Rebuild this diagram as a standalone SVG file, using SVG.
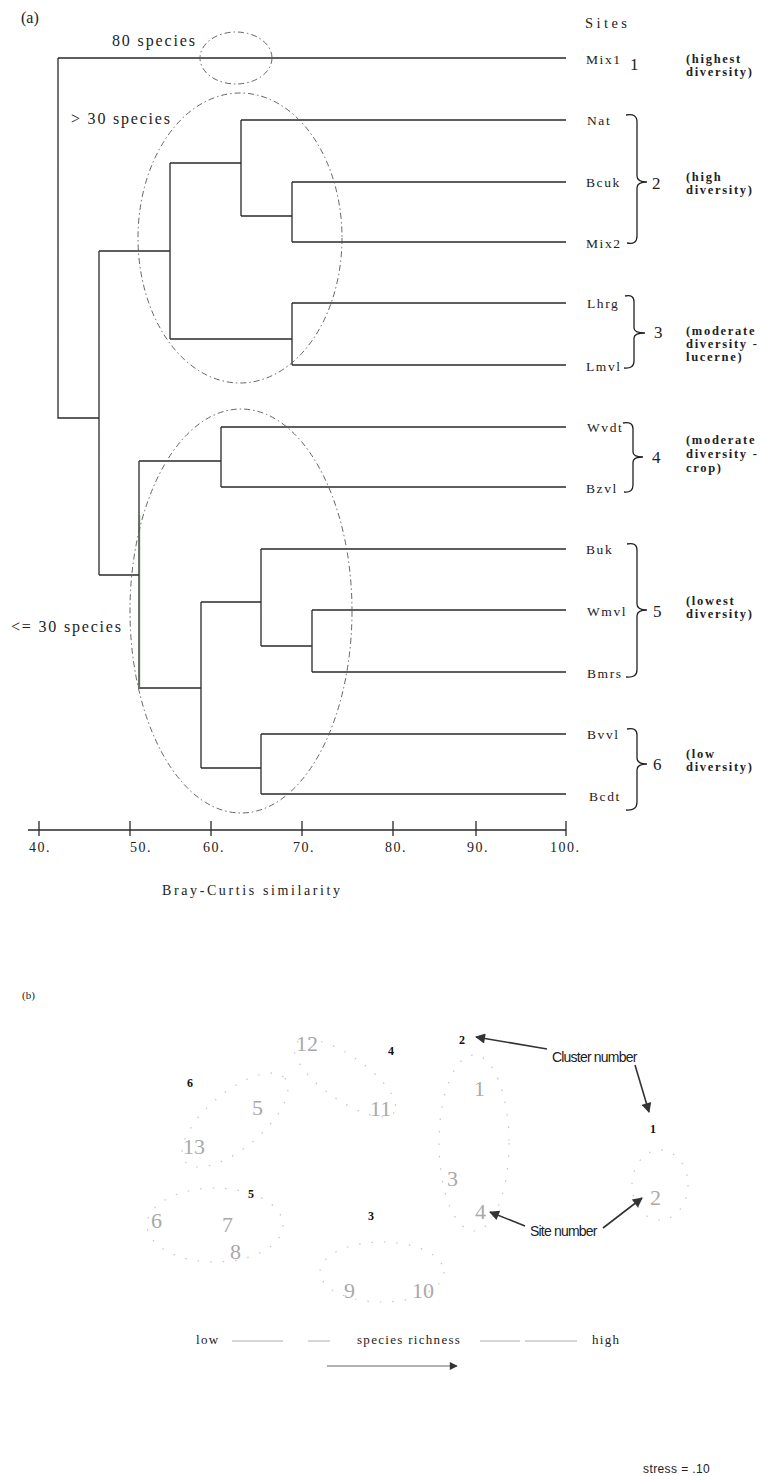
<svg xmlns="http://www.w3.org/2000/svg" width="761" height="1476" viewBox="0 0 761 1476">
<style>
.ser{font-family:"Liberation Serif","Times New Roman",serif;fill:#222}
.leaf{font-size:13.5px;letter-spacing:1.6px}
.lab{font-size:16px}
.cn{font-size:17px}
.desc{font-size:12.5px;font-weight:bold;letter-spacing:1.7px}
.tick{font-size:14px;letter-spacing:1.5px}
.ln{fill:none;stroke:#2a2a2a;stroke-width:1.3}
.ell{fill:none;stroke:#555;stroke-width:0.9;stroke-dasharray:6 3 1.5 3}
.brace{fill:none;stroke:#222;stroke-width:1.3}
.site{font-family:"Liberation Serif","Times New Roman",serif;font-size:22px;fill:#a9a9a9}
.clu{font-family:"Liberation Serif","Times New Roman",serif;font-size:12px;font-weight:bold;fill:#111}
.dots{fill:none;stroke:#c4c4c4;stroke-width:1.2;stroke-dasharray:1.5 11}
.san{font-family:"Liberation Sans",Arial,sans-serif;fill:#222}
.arr{fill:none;stroke:#333;stroke-width:1.6}
.thin{fill:none;stroke:#9a9a9a;stroke-width:0.8}
</style>
<defs>
<marker id="ah" viewBox="0 0 10 10" refX="9" refY="5" markerWidth="12" markerHeight="10" markerUnits="userSpaceOnUse" orient="auto">
<path d="M0,0 L10,5 L0,10 z" fill="#333"/>
</marker>
<marker id="ah2" viewBox="0 0 10 10" refX="9" refY="5" markerWidth="10" markerHeight="8" markerUnits="userSpaceOnUse" orient="auto">
<path d="M0,0 L10,5 L0,10 z" fill="#333"/>
</marker>
</defs>
<rect width="761" height="1476" fill="#fff"/>

<!-- Part (a) -->
<text class="ser" x="21" y="23" font-size="16">(a)</text>
<text class="ser lab" x="112" y="46" textLength="83" lengthAdjust="spacing">80 species</text>
<text class="ser lab" x="71" y="124" textLength="99" lengthAdjust="spacing">&gt; 30 species</text>
<text class="ser lab" x="11" y="632" textLength="110" lengthAdjust="spacing">&lt;= 30 species</text>
<text class="ser" x="585" y="28" font-size="14.5" textLength="42" lengthAdjust="spacing">Sites</text>

<g id="connectors">
<path class="ln" d="M58,58 H566 M58,58 V418 H99 M99,251 V575
M99,251 H170 M170,163 V339 M170,163 H241 M241,120 V216 M241,120 H566
M241,216 H292 M292,182 V242 M292,182 H566 M292,242 H566
M170,339 H292 M292,303 V365 M292,303 H566 M292,365 H566
M99,575 H139 M139,461 V688 M139,461 H221 M221,427 V487 M221,427 H566 M221,487 H566
M139,688 H201 M201,602 V768 M201,602 H261 M261,549 V646 M261,549 H566 M261,646 H312
M312,610 V672 M312,610 H566 M312,672 H566
M201,768 H261 M261,734 V794 M261,734 H566 M261,794 H566"/>
<path d="M139.5,515 V688" fill="none" stroke="#4d7f3a" stroke-width="1.3"/>
</g>

<g id="groups-a">
<ellipse class="ell" cx="236" cy="58" rx="36" ry="26"/>
<ellipse class="ell" cx="240" cy="238" rx="102" ry="145"/>
<ellipse class="ell" cx="241" cy="611" rx="111" ry="202"/>
</g>

<g id="leaf-Mix1"><text class="ser leaf" x="586" y="64">Mix1</text></g>
<g id="leaf-Nat"><text class="ser leaf" x="587" y="125">Nat</text></g>
<g id="leaf-Bcuk"><text class="ser leaf" x="586" y="187">Bcuk</text></g>
<g id="leaf-Mix2"><text class="ser leaf" x="586" y="248">Mix2</text></g>
<g id="leaf-Lhrg"><text class="ser leaf" x="587" y="308">Lhrg</text></g>
<g id="leaf-Lmvl"><text class="ser leaf" x="586" y="371">Lmvl</text></g>
<g id="leaf-Wvdt"><text class="ser leaf" x="587" y="432">Wvdt</text></g>
<g id="leaf-Bzvl"><text class="ser leaf" x="586" y="493">Bzvl</text></g>
<g id="leaf-Buk"><text class="ser leaf" x="586" y="554">Buk</text></g>
<g id="leaf-Wmvl"><text class="ser leaf" x="587" y="616">Wmvl</text></g>
<g id="leaf-Bmrs"><text class="ser leaf" x="587" y="678">Bmrs</text></g>
<g id="leaf-Bvvl"><text class="ser leaf" x="587" y="739">Bvvl</text></g>
<g id="leaf-Bcdt"><text class="ser leaf" x="589" y="801">Bcdt</text></g>

<g id="cluster-1">
<text class="ser cn" x="630" y="70">1</text>
<text class="ser desc" x="686" y="63">(highest</text>
<text class="ser desc" x="686" y="76">diversity)</text>
</g>
<g id="cluster-2">
<path class="brace" d="M626,115 Q637,113 637,122 L637,176 Q637,182 647,182 Q637,182 637,188 L637,236 Q637,245 627,243"/>
<text class="ser cn" x="652" y="189">2</text>
<text class="ser desc" x="686" y="181">(high</text>
<text class="ser desc" x="686" y="194">diversity)</text>
</g>
<g id="cluster-3">
<path class="brace" d="M625,296 Q634,294 634,302 L634,328 Q634,333 645,333 Q634,333 634,338 L634,361 Q634,369 624,368"/>
<text class="ser cn" x="654" y="338">3</text>
<text class="ser desc" x="686" y="335">(moderate</text>
<text class="ser desc" x="686" y="348">diversity -</text>
<text class="ser desc" x="686" y="361">lucerne)</text>
</g>
<g id="cluster-4">
<path class="brace" d="M623,423 Q633,421 633,429 L633,452 Q633,457 643,457 Q633,457 633,462 L633,485 Q633,493 624,492"/>
<text class="ser cn" x="652" y="463">4</text>
<text class="ser desc" x="686" y="444">(moderate</text>
<text class="ser desc" x="686" y="458">diversity -</text>
<text class="ser desc" x="686" y="472">crop)</text>
</g>
<g id="cluster-5">
<path class="brace" d="M627,544 Q637,542 637,550 L637,604 Q637,610 647,610 Q637,610 637,616 L637,670 Q637,678 626,677"/>
<text class="ser cn" x="653" y="617">5</text>
<text class="ser desc" x="686" y="605">(lowest</text>
<text class="ser desc" x="686" y="618">diversity)</text>
</g>
<g id="cluster-6">
<path class="brace" d="M627,729 Q637,727 637,735 L637,758 Q637,764 647,764 Q637,764 637,770 L637,802 Q637,811 626,810"/>
<text class="ser cn" x="653" y="770">6</text>
<text class="ser desc" x="686" y="758">(low</text>
<text class="ser desc" x="686" y="771">diversity)</text>
</g>

<g id="axis">
<path class="ln" d="M28,830 H566 M39,821 V836 M130,821 V836 M211,821 V836 M302,821 V836 M393,821 V836 M476,821 V836 M566,821 V836"/>
<text class="ser tick" x="29" y="852">40.</text>
<text class="ser tick" x="130" y="852">50.</text>
<text class="ser tick" x="203" y="852">60.</text>
<text class="ser tick" x="293" y="852">70.</text>
<text class="ser tick" x="385" y="852">80.</text>
<text class="ser tick" x="467" y="852">90.</text>
<text class="ser tick" x="550" y="852">100.</text>
<text class="ser" x="162" y="895" font-size="14" textLength="178" lengthAdjust="spacing">Bray-Curtis similarity</text>
</g>

<!-- Part (b) -->
<text class="ser" x="22" y="999" font-size="11">(b)</text>

<g id="outlines-b">
<ellipse class="dots" cx="235" cy="1120" rx="65" ry="28" transform="rotate(-40 235 1120)"/>
<ellipse class="dots" cx="345" cy="1078" rx="60" ry="22" transform="rotate(35 345 1078)"/>
<ellipse class="dots" cx="474" cy="1143" rx="35" ry="88"/>
<ellipse class="dots" cx="660" cy="1185" rx="28" ry="35"/>
<ellipse class="dots" cx="215" cy="1225" rx="68" ry="37"/>
<ellipse class="dots" cx="382" cy="1272" rx="62" ry="30"/>
</g>

<g id="site-numbers">
<text class="site" x="296" y="1051">12</text>
<text class="site" x="252" y="1115">5</text>
<text class="site" x="370" y="1116">11</text>
<text class="site" x="474" y="1096">1</text>
<text class="site" x="183" y="1154">13</text>
<text class="site" x="151" y="1228">6</text>
<text class="site" x="222" y="1232">7</text>
<text class="site" x="230" y="1259">8</text>
<text class="site" x="447" y="1186">3</text>
<text class="site" x="475" y="1219">4</text>
<text class="site" x="650" y="1205">2</text>
<text class="site" x="344" y="1298">9</text>
<text class="site" x="412" y="1298">10</text>
</g>

<g id="cluster-numbers">
<text class="clu" x="388" y="1055">4</text>
<text class="clu" x="459" y="1044">2</text>
<text class="clu" x="650" y="1133">1</text>
<text class="clu" x="187" y="1087">6</text>
<text class="clu" x="248" y="1198">5</text>
<text class="clu" x="368" y="1220">3</text>
</g>

<g id="callouts">
<text class="san" x="552" y="1062" font-size="14" letter-spacing="-0.8">Cluster number</text>
<text class="san" x="530" y="1236" font-size="14" letter-spacing="-0.8">Site number</text>
<path class="arr" d="M547,1049 L476,1037" marker-end="url(#ah)"/>
<path class="arr" d="M635,1065 L649,1112" marker-end="url(#ah)"/>
<path class="arr" d="M525,1226 L490,1212" marker-end="url(#ah)"/>
<path class="arr" d="M603,1228 L642,1198" marker-end="url(#ah)"/>
</g>

<g id="richness">
<text class="ser" x="196" y="1344" font-size="13" letter-spacing="1.3">low</text>
<text class="ser" x="357" y="1344" font-size="13" letter-spacing="1.3">species richness</text>
<text class="ser" x="592" y="1344" font-size="13" letter-spacing="1.3">high</text>
<path class="thin" d="M232,1341 H283 M308,1341 H330 M480,1341 H520 M525,1341 H577"/>
<path d="M327,1366 H457" fill="none" stroke="#555" stroke-width="0.9" marker-end="url(#ah2)"/>
</g>

<text class="san" x="643" y="1473" font-size="12" letter-spacing="0.4" fill="#333">stress = .10</text>
</svg>
